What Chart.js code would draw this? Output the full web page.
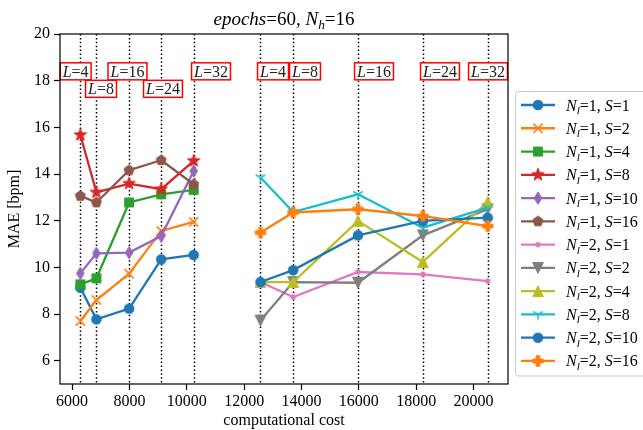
<!DOCTYPE html>
<html>
<head>
<meta charset="utf-8">
<script src="https://cdn.jsdelivr.net/npm/chart.js@4.4.0/dist/chart.umd.min.js"></script>
<style>
  html, body { margin: 0; padding: 0; background: #fff; }
  canvas { display: block; }
</style>
</head>
<body>
<canvas id="chart" width="643" height="430"></canvas>
<script>
// values
const costNl1 = [6290, 6850, 7990, 9110, 10240];
const costNl2 = [12570, 13710, 15970, 18230, 20490];
const layerValues = [4, 8, 16, 24, 32];

const maeNl1S1 = [9.13, 7.77, 8.23, 10.34, 10.53];
const maeNl1S2 = [7.70, 8.60, 9.73, 11.56, 11.95];
const maeNl1S4 = [9.27, 9.53, 12.78, 13.13, 13.32];
const maeNl1S8 = [15.67, 13.21, 13.59, 13.35, 14.56];
const maeNl1S10 = [9.74, 10.60, 10.63, 11.34, 14.13];
const maeNl1S16 = [13.06, 12.78, 14.16, 14.59, 13.56];
const maeNl2S1 = [9.37, 8.73, 9.80, 9.70, 9.41];
const maeNl2S2 = [7.72, 9.37, 9.34, 11.37, 12.49];
const maeNl2S4 = [9.37, 9.37, 11.99, 10.23, 12.80];
const maeNl2S8 = [13.85, 12.37, 13.13, 11.70, 12.56];
const maeNl2S10 = [9.37, 9.88, 11.37, 11.99, 12.13];
const maeNl2S16 = [11.49, 12.35, 12.49, 12.20, 11.77];

const xTicks = [6000, 8000, 10000, 12000, 14000, 16000, 18000, 20000];
const yTicks = [6, 8, 10, 12, 14, 16, 18, 20];

// where the L=... boxes sit, in data units
const boxAnchorNl1 = [[6125, 18.4], [7010, 17.65], [7933, 18.4], [9171, 17.65], [10845, 18.4]];
const boxAnchorNl2 = [[13007, 18.4], [14122, 18.4], [16528, 18.4], [18829, 18.4], [20503, 18.4]];

const SERIF = "'Liberation Serif', 'DejaVu Serif', serif";

// small canvases that mimic the matplotlib markers
function makeMarker(kind, color) {
    const s = 18;
    const c = document.createElement('canvas');
    c.width = s; c.height = s;
    const g = c.getContext('2d');
    g.translate(s / 2, s / 2);
    g.fillStyle = color;
    g.strokeStyle = color;
    g.lineWidth = 1;
    g.lineJoin = 'miter';
    const poly = pts => {
        g.beginPath();
        pts.forEach((p, i) => i ? g.lineTo(p[0], p[1]) : g.moveTo(p[0], p[1]));
        g.closePath(); g.fill(); g.stroke();
    };
    switch (kind) {
        case 'o': g.beginPath(); g.arc(0, 0, 5.3, 0, Math.PI * 2); g.fill(); break;
        case '.': g.beginPath(); g.arc(0, 0, 2.7, 0, Math.PI * 2); g.fill(); break;
        case 'x':
            g.lineWidth = 1.6; g.beginPath();
            g.moveTo(-4.6, -4.6); g.lineTo(4.6, 4.6); g.moveTo(4.6, -4.6); g.lineTo(-4.6, 4.6);
            g.stroke(); break;
        case 's': poly([[-4.5, -4.5], [4.5, -4.5], [4.5, 4.5], [-4.5, 4.5]]); break;
        case '*': {
            const pts = [];
            for (let i = 0; i < 10; i++) {
                const r = i % 2 ? 2.7 : 6.6, a = -Math.PI / 2 + i * Math.PI / 5;
                pts.push([r * Math.cos(a), r * Math.sin(a)]);
            }
            poly(pts); break;
        }
        case 'd': poly([[0, -6.2], [3.8, 0], [0, 6.2], [-3.8, 0]]); break;
        case 'p': {
            const pts = [];
            for (let i = 0; i < 5; i++) {
                const a = -Math.PI / 2 + i * 2 * Math.PI / 5;
                pts.push([5.3 * Math.cos(a), 5.3 * Math.sin(a)]);
            }
            poly(pts); break;
        }
        case 'v': poly([[0, 5.4], [-5.4, -5.4], [5.4, -5.4]]); break;
        case '^': poly([[0, -5.4], [5.4, 5.4], [-5.4, 5.4]]); break;
        case '1':
            g.lineWidth = 1.5; g.beginPath();
            g.moveTo(0, 0); g.lineTo(0, 5.5);
            g.moveTo(0, 0); g.lineTo(4.8, -2.75);
            g.moveTo(0, 0); g.lineTo(-4.8, -2.75);
            g.stroke(); break;
        case 'P': {
            const a = 1.9, b = 5.2;
            poly([[-a, -b], [a, -b], [a, -a], [b, -a], [b, a], [a, a], [a, b], [-a, b], [-a, a], [-b, a], [-b, -a], [-a, -a]]);
            break;
        }
    }
    return c;
}

const seriesList = [
    { nl: 1, s: 1, cost: costNl1, mae: maeNl1S1, color: '#1f77b4', marker: 'o' },
    { nl: 1, s: 2, cost: costNl1, mae: maeNl1S2, color: '#ff7f0e', marker: 'x' },
    { nl: 1, s: 4, cost: costNl1, mae: maeNl1S4, color: '#2ca02c', marker: 's' },
    { nl: 1, s: 8, cost: costNl1, mae: maeNl1S8, color: '#d62728', marker: '*' },
    { nl: 1, s: 10, cost: costNl1, mae: maeNl1S10, color: '#9467bd', marker: 'd' },
    { nl: 1, s: 16, cost: costNl1, mae: maeNl1S16, color: '#8c564b', marker: 'p' },
    { nl: 2, s: 1, cost: costNl2, mae: maeNl2S1, color: '#e377c2', marker: '.' },
    { nl: 2, s: 2, cost: costNl2, mae: maeNl2S2, color: '#7f7f7f', marker: 'v' },
    { nl: 2, s: 4, cost: costNl2, mae: maeNl2S4, color: '#bcbd22', marker: '^' },
    { nl: 2, s: 8, cost: costNl2, mae: maeNl2S8, color: '#17becf', marker: '1' },
    { nl: 2, s: 10, cost: costNl2, mae: maeNl2S10, color: '#1f77b4', marker: 'o' },
    { nl: 2, s: 16, cost: costNl2, mae: maeNl2S16, color: '#ff7f0e', marker: 'P' }
];
seriesList.forEach(sr => { sr.icon = makeMarker(sr.marker, sr.color); });

const datasets = seriesList.map((sr, i) => ({
    label: 'Nl=' + sr.nl + ', S=' + sr.s,
    data: sr.cost.map((c, k) => ({ x: c, y: sr.mae[k] })),
    borderColor: sr.color,
    backgroundColor: sr.color,
    borderWidth: 2.3,
    pointStyle: sr.icon,
    pointRadius: 5,
    pointHoverRadius: 5,
    fill: false,
    tension: 0,
    order: seriesList.length - i   // later series on top, like matplotlib
}));

// text with italic / subscript pieces
function drawRich(ctx, parts, x, y, size, align) {
    const fontOf = p => (p.i ? 'italic ' : '') + (p.sub ? size * 0.7 : size) + 'px ' + SERIF;
    let total = 0;
    parts.forEach(p => { ctx.font = fontOf(p); total += ctx.measureText(p.t).width; });
    let cx = align === 'center' ? x - total / 2 : x;
    ctx.textAlign = 'left';
    ctx.textBaseline = 'alphabetic';
    parts.forEach(p => {
        ctx.font = fontOf(p);
        ctx.fillText(p.t, cx, y + (p.sub ? size * 0.22 : 0));
        cx += ctx.measureText(p.t).width;
    });
    return total;
}
const seriesParts = sr => [
    { t: 'N', i: 1 }, { t: 'l', i: 1, sub: 1 }, { t: '=' + sr.nl + ', ' }, { t: 'S', i: 1 }, { t: '=' + sr.s }
];

const decorPlugin = {
    id: 'decor',
    beforeDatasetsDraw(chart) {
        const { ctx, chartArea: a, scales: { x } } = chart;
        ctx.save();
        ctx.strokeStyle = '#000';
        ctx.lineWidth = 1.5;
        ctx.setLineDash([1.5, 2.4]);
        costNl1.concat(costNl2).forEach(c => {
            const px = Math.round(x.getPixelForValue(c)) + 0.5;
            ctx.beginPath(); ctx.moveTo(px, a.top); ctx.lineTo(px, a.bottom); ctx.stroke();
        });
        ctx.restore();
    },
    afterDatasetsDraw(chart) {
        const { ctx, scales: { x, y } } = chart;
        ctx.save();
        const boxes = boxAnchorNl1.map((p, k) => [p, layerValues[k]])
            .concat(boxAnchorNl2.map((p, k) => [p, layerValues[k]]));
        boxes.forEach(([p, L]) => {
            const cx = x.getPixelForValue(p[0]), cy = y.getPixelForValue(p[1]);
            const parts = [{ t: 'L', i: 1 }, { t: '=' + L }];
            let w = 0;
            parts.forEach(q => { ctx.font = (q.i ? 'italic ' : '') + '16px ' + SERIF; w += ctx.measureText(q.t).width; });
            const bw = w + 5, bh = 17;
            ctx.fillStyle = '#fff';
            ctx.fillRect(cx - bw / 2, cy - bh / 2, bw, bh);
            ctx.strokeStyle = '#ff0000';
            ctx.lineWidth = 1.5;
            ctx.strokeRect(cx - bw / 2, cy - bh / 2, bw, bh);
            ctx.fillStyle = '#222';
            drawRich(ctx, parts, cx, cy + 5.5, 16, 'center');
        });
        ctx.restore();
    },
    afterDraw(chart) {
        const { ctx, chartArea: a } = chart;
        ctx.save();
        // frame
        ctx.strokeStyle = '#000';
        ctx.lineWidth = 1.2;
        ctx.strokeRect(a.left, a.top, a.right - a.left, a.bottom - a.top);

        // title and axis titles
        ctx.fillStyle = '#000';
        drawRich(ctx, [{ t: 'epochs', i: 1 }, { t: '=60, ' }, { t: 'N', i: 1 }, { t: 'h', i: 1, sub: 1 }, { t: '=16' }],
            (a.left + a.right) / 2, 25, 19, 'center');
        ctx.font = '16px ' + SERIF;
        ctx.textAlign = 'center';
        ctx.textBaseline = 'middle';
        ctx.fillText('computational cost', (a.left + a.right) / 2, 421);
        ctx.save();
        ctx.translate(15, (a.top + a.bottom) / 2);
        ctx.rotate(-Math.PI / 2);
        ctx.fillText('MAE [bpm]', 0, 0);
        ctx.restore();

        // legend
        const lx = 515.5, ly = 91.5, lh = 284.5, step = 23.27;
        ctx.beginPath();
        ctx.roundRect(lx, ly, 160, lh, 3);
        ctx.fillStyle = '#fff';
        ctx.fill();
        ctx.strokeStyle = '#cccccc';
        ctx.lineWidth = 1;
        ctx.stroke();
        seriesList.forEach((sr, i) => {
            const yy = 105 + i * step;
            ctx.strokeStyle = sr.color;
            ctx.lineWidth = 2.3;
            ctx.beginPath(); ctx.moveTo(521, yy); ctx.lineTo(555, yy); ctx.stroke();
            ctx.drawImage(sr.icon, 538 - sr.icon.width / 2, yy - sr.icon.height / 2);
            ctx.fillStyle = '#000';
            drawRich(ctx, seriesParts(sr), 566, yy + 5.5, 16, 'left');
        });
        ctx.restore();
    }
};

const tickFont = { family: SERIF, size: 16 };

new Chart(document.getElementById('chart'), {
    type: 'line',
    data: { datasets },
    options: {
        responsive: false,
        animation: false,
        devicePixelRatio: 1,
        layout: { padding: { top: 34, right: 135, bottom: 0, left: 0 } },
        plugins: { legend: { display: false }, tooltip: { enabled: false } },
        scales: {
            x: {
                type: 'linear',
                min: 5580,
                max: 21200,
                afterFit: s => { s.height = 46; },
                afterBuildTicks: s => { s.ticks = xTicks.map(v => ({ value: v })); },
                ticks: { font: tickFont, color: '#000', padding: 2, maxRotation: 0, autoSkip: false, callback: v => String(v) },
                grid: { drawOnChartArea: false, tickLength: 6, tickColor: '#000', tickWidth: 1.2 },
                border: { display: false }
            },
            y: {
                type: 'linear',
                min: 5,
                max: 20,
                afterFit: s => { s.width = 60; },
                afterBuildTicks: s => { s.ticks = yTicks.map(v => ({ value: v })); },
                ticks: { font: tickFont, color: '#000', padding: 4, autoSkip: false, callback: v => String(v) },
                grid: { drawOnChartArea: false, tickLength: 6, tickColor: '#000', tickWidth: 1.2 },
                border: { display: false }
            }
        }
    },
    plugins: [decorPlugin]
});
</script>
</body>
</html>
